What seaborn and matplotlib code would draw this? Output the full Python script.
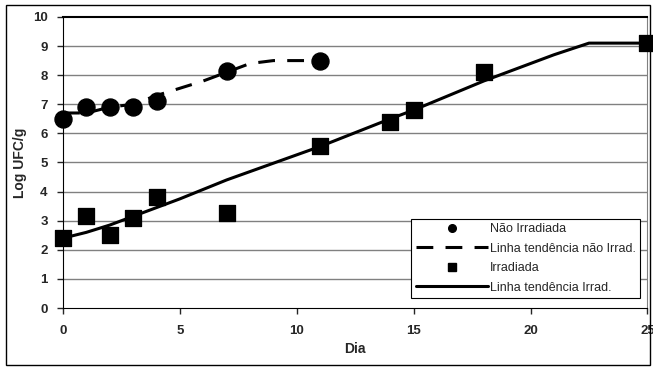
import pandas as pd
import seaborn as sns
import matplotlib.pyplot as plt
from matplotlib.patches import Rectangle
from matplotlib.lines import Line2D

# dados
dias_nao = [0, 1, 2, 3, 4, 7, 11]
log_nao = [6.5, 6.9, 6.9, 6.9, 7.1, 8.15, 8.5]

tend_nao_x = [0, 1, 2, 3, 4, 5, 6, 7, 8, 9, 11]
tend_nao_y = [6.7, 6.7, 6.9, 7.0, 7.3, 7.55, 7.8, 8.1, 8.4, 8.5, 8.5]

dias_irr = [0, 1, 2, 3, 4, 7, 11, 14, 15, 18, 25]
log_irr = [2.4, 3.15, 2.5, 3.1, 3.8, 3.25, 5.55, 6.4, 6.8, 8.1, 9.1]

tend_irr_x = [0, 1, 2, 3, 4, 5, 7, 11, 14, 15, 18, 20, 21, 22.5, 25]
tend_irr_y = [2.4, 2.6, 2.85, 3.15, 3.45, 3.75, 4.4, 5.55, 6.5, 6.8, 7.8, 8.4, 8.7, 9.1, 9.1]

sns.set_style("white")
plt.rcParams['font.family'] = ['Liberation Sans', 'DejaVu Sans']

fig = plt.figure(figsize=(6.53, 3.68), dpi=100)
ax = fig.add_axes([0.0965, 0.163, 0.895, 0.791])

# linhas de grade
for y in range(1, 10):
    ax.axhline(y, color='#808080', linewidth=1, zorder=0)

sns.lineplot(x=tend_nao_x, y=tend_nao_y, ax=ax, color='black', linewidth=2.2)
ax.lines[-1].set_dashes([5.5, 4])
sns.lineplot(x=tend_irr_x, y=tend_irr_y, ax=ax, color='black', linewidth=2.2)
sns.scatterplot(x=dias_nao, y=log_nao, ax=ax, color='black', marker='o', s=150,
                edgecolor='black', zorder=5, clip_on=False)
sns.scatterplot(x=dias_irr, y=log_irr, ax=ax, color='black', marker='s', s=135,
                edgecolor='black', zorder=5, clip_on=False)

ax.set_xlim(0, 25)
ax.set_ylim(0, 10)
ax.set_xticks([0, 5, 10, 15, 20, 25])
ax.set_yticks(range(0, 11))
ax.tick_params(axis='both', direction='out', length=4, width=1, labelsize=9.5,
               bottom=True, left=True)
ax.tick_params(axis='x', pad=8)
ax.tick_params(axis='y', pad=7)
for lab in ax.get_xticklabels() + ax.get_yticklabels():
    lab.set_fontweight('bold')
ax.set_xlabel('Dia', fontsize=10, fontweight='bold', labelpad=4)
ax.set_ylabel('Log UFC/g', fontsize=10, fontweight='bold', labelpad=4)

ax.spines['left'].set_color('black')
ax.spines['bottom'].set_color('black')
ax.spines['top'].set_color('black')
ax.spines['top'].set_linewidth(1.5)
ax.spines['right'].set_color('#808080')

handles = [
    Line2D([], [], color='black', marker='o', linestyle='none', markersize=5.5),
    Line2D([], [], color='black', linewidth=2.2, dashes=[5.5, 4]),
    Line2D([], [], color='black', marker='s', linestyle='none', markersize=5.5),
    Line2D([], [], color='black', linewidth=2.2),
]
labels = ['Não Irradiada', 'Linha tendência não Irrad.', 'Irradiada', 'Linha tendência Irrad.']
leg = ax.legend(handles, labels, loc='lower right', bbox_to_anchor=(0.992, 0.025),
                fontsize=9, frameon=True, fancybox=False, edgecolor='black',
                framealpha=1, borderpad=0.35, labelspacing=0.6, handlelength=5.8,
                handletextpad=0.15, borderaxespad=0.2)
leg.get_frame().set_linewidth(0.8)

# moldura externa
fig.add_artist(Rectangle((0.009, 0.008), 0.987, 0.978, transform=fig.transFigure,
                         fill=False, edgecolor='black', linewidth=1))

fig.savefig('out.png', dpi=100)
